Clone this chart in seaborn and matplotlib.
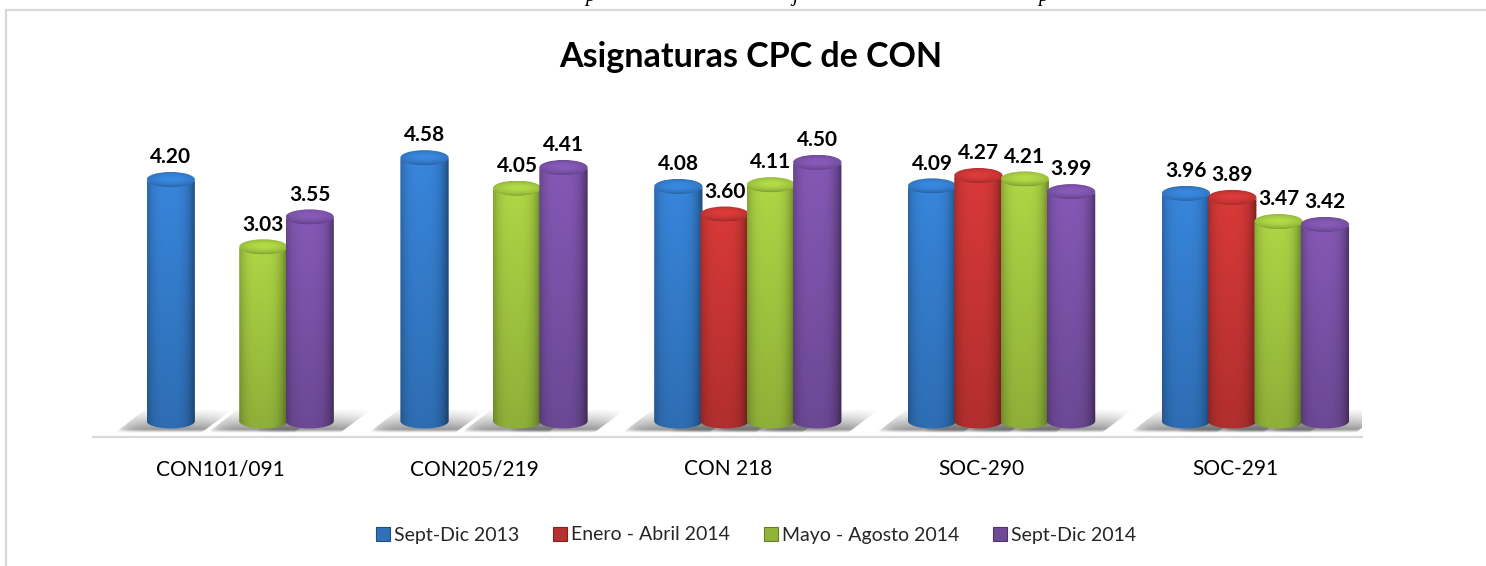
import numpy as np
import pandas as pd
import matplotlib
matplotlib.use('Agg')
import matplotlib.pyplot as plt
import matplotlib.transforms as mtrans
from matplotlib.lines import Line2D
from matplotlib.patches import Ellipse, Polygon
import seaborn as sns

# Data
asignaturas = ['CON101/091', 'CON205/219', 'CON 218', 'SOC-290', 'SOC-291']
periodos = ['Sept-Dic 2013', 'Enero - Abril 2014', 'Mayo - Agosto 2014', 'Sept-Dic 2014']
sept_2013 = [4.20, 4.58, 4.08, 4.09, 3.96]
enero_2014 = [np.nan, np.nan, 3.60, 4.27, 3.89]
mayo_2014 = [3.03, 4.05, 4.11, 4.21, 3.47]
sept_2014 = [3.55, 4.41, 4.50, 3.99, 3.42]
colores = ['#2f70b8', '#b5302f', '#92b43a', '#6f4a98']

W, H = 1486, 566
sns.set_theme(style='white')
plt.rcParams['font.family'] = ['Lato', 'DejaVu Sans']

df = pd.DataFrame({'asignatura': asignaturas, periodos[0]: sept_2013, periodos[1]: enero_2014,
                   periodos[2]: mayo_2014, periodos[3]: sept_2014})
df = df.melt(id_vars='asignatura', var_name='periodo', value_name='cpc')

fig = plt.figure(figsize=(W / 100, H / 100), dpi=100)
# axes box in pixels: x 93-1362, y 100-437
ax = fig.add_axes([93 / W, 1 - 437 / H, 1269 / W, 337 / H])
sns.barplot(data=df, x='asignatura', y='cpc', hue='periodo', hue_order=periodos, palette=colores,
            saturation=1, width=0.73, linewidth=0, ax=ax)

px_y = 57.5                      # pixels per unit
px_x = 1269 / 5                  # pixels per category
xlim = (-0.58, 4.42)             # bars sit to the right of the tick labels
ylim = (-16 / px_y, 321 / px_y)
elip = 15 / px_y


def tono(color, factor):
    rgb = np.array(matplotlib.colors.to_rgb(color))
    return np.clip(rgb * factor, 0, 1)


def cilindro(x0, x1, h, color, z):
    x0 -= 1 / px_x
    x1 += 1 / px_x
    w = x1 - x0
    cx = (x0 + x1) / 2
    t = np.linspace(0, 1, 60)
    perfil = 1.06 - 0.34 * np.abs(2 * t - 0.9) ** 3.5

    # shadow on the floor
    sx0, sx1 = x0 - 32 / px_x, x1 + 37 / px_x
    sy0, sy1 = -12 / px_y, 11 / px_y
    sombra = Polygon([(x0 - 32 / px_x, sy0), (x1 + 6 / px_x, sy0), (x1 + 37 / px_x, sy1), (x0 - 2 / px_x, sy1)],
                     transform=ax.transData)
    yy, xx = np.mgrid[0:1:40j, 0:1:80j]
    alfa = 0.62 * np.clip(1.15 - yy, 0, 1) ** 1.4 * np.clip(yy / 0.15, 0, 1) * (1 - np.abs(2 * xx - 1) ** 5)
    img = np.zeros((40, 80, 4))
    img[..., :3] = 0.35
    img[..., 3] = alfa
    im = ax.imshow(img, extent=(sx0, sx1, sy0, sy1), origin='lower', aspect='auto', zorder=1,
                   interpolation='bilinear')
    im.set_clip_path(sombra)

    # body
    a = np.linspace(np.pi, 2 * np.pi, 40)
    abajo = np.column_stack([cx + w / 2 * np.cos(a), elip / 2 * np.sin(a)])
    arriba = np.column_stack([cx + w / 2 * np.cos(a[::-1]), h + elip / 2 * np.sin(a[::-1])])
    cuerpo = Polygon(np.vstack([abajo, arriba]), transform=ax.transData)
    v = np.linspace(0.92, 1.12, 60)[:, None]
    img = np.clip(tono(color, 1)[None, None, :] * (perfil[None, :] * v)[..., None], 0, 1)
    im = ax.imshow(img, extent=(x0, x1, -elip / 2, h), origin='lower', aspect='auto', zorder=z,
                   interpolation='bilinear')
    im.set_clip_path(cuerpo)

    # top cap
    tapa = Ellipse((cx, h), w, elip, transform=ax.transData)
    yy, xx = np.mgrid[-1:1:30j, -1:1:60j]
    luz = 1.22 - 0.18 * (xx ** 2 + (yy * 1.2) ** 2) + 0.05 * yy
    img = np.clip(tono(color, 1)[None, None, :] * luz[..., None], 0, 1)
    im = ax.imshow(img, extent=(x0, x1, h - elip / 2, h + elip / 2), origin='lower', aspect='auto',
                   zorder=z + 0.5, interpolation='bilinear')
    im.set_clip_path(tapa)


for i, (cont, color) in enumerate(zip(ax.containers, colores)):
    for bar in cont:
        h = bar.get_height()
        if not np.isfinite(h):
            continue
        x0, x1 = bar.get_x(), bar.get_x() + bar.get_width()
        bar.set_zorder(2)
        cilindro(x0, x1, h, color, 3 + i)
        ax.annotate(f'{h:.2f}', ((x0 + x1) / 2, h), xytext=(0, 16), textcoords='offset points', ha='center',
                    va='center', fontsize=15, fontweight='bold', color='black', zorder=10)

ax.set_xlim(*xlim)
ax.set_ylim(*ylim)
ax.set_xlabel('')
ax.set_ylabel('')
ax.set_yticks([])
ax.patch.set_alpha(0)
sns.despine(ax=ax, left=True)
ax.spines['bottom'].set_color('#d9d9d9')
ax.spines['bottom'].set_linewidth(1.6)
ax.tick_params(axis='x', length=0, pad=16, labelsize=15, labelcolor='black')
desplazar = mtrans.ScaledTranslation(-20 / 100, 0, fig.dpi_scale_trans)
for lab in ax.get_xticklabels():
    lab.set_transform(lab.get_transform() + desplazar)

# legend
sns.move_legend(ax, 'center', bbox_to_anchor=(756 / W, 1 - 535 / H), bbox_transform=fig.transFigure, ncol=4,
                frameon=False, title=None, fontsize=14, handlelength=0.72, handleheight=0.72,
                handletextpad=0.2, columnspacing=1.75, borderpad=0)
for handle, color in zip(ax.get_legend().legend_handles, colores):
    handle.set_edgecolor(tono(color, 0.7))
    handle.set_linewidth(0.8)

fig.text(751 / W, 1 - 57 / H, 'Asignaturas CPC de CON', ha='center', va='center', fontsize=24.5,
         fontweight='bold', color='black')

# outer frame of the chart area
for xs, ys in [((6 / W, 1), (1 - 10 / H, 1 - 10 / H)), ((6 / W, 6 / W), (0, 1 - 10 / H))]:
    fig.add_artist(Line2D(xs, ys, color='#d9d9d9', lw=1.6, transform=fig.transFigure))

# cut-off caption line above the chart
for letra, x in [('p', 590), ('j', 795), ('p', 1043)]:
    fig.text(x / W, 1 - 1 / H, letra, family='Liberation Serif', style='italic', fontsize=15, ha='center',
             va='baseline', color='black')

fig.savefig('out.png', dpi=100)
